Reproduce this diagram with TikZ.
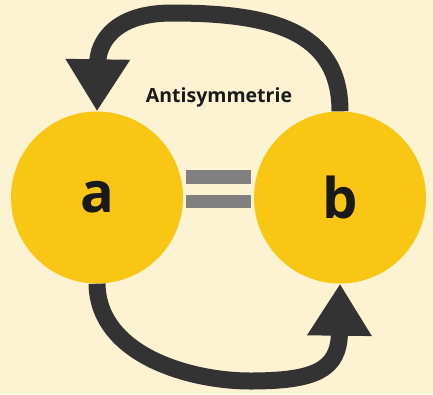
\documentclass[tikz,border=0pt]{standalone}
\usepackage{fontspec}
\setmainfont{Open Sans}
\usetikzlibrary{arrows.meta}
\definecolor{bgc}{HTML}{FDF3D3}
\definecolor{circc}{HTML}{F9C613}
\definecolor{darkc}{HTML}{333333}
\definecolor{eqc}{HTML}{808080}
\definecolor{txtc}{HTML}{1A1A1A}
\begin{document}
\begin{tikzpicture}[x=1pt,y=-1pt,
  ball/.style={circle,fill=circc,minimum size=172pt,inner sep=0pt,font=\fontsize{56}{60}\selectfont\bfseries,text=txtc},
  conn/.style={draw=darkc,line width=17pt,-{Triangle[length=52pt,width=61pt]}},
  eqbar/.style={fill=eqc}]
\fill[bgc] (0,0) rectangle (433,394);
\useasboundingbox (0,0) rectangle (433,394);
\node[ball] (a) at (97,197.5) {a};
\node[ball] (b) at (340,197.5) {b};
\fill[eqbar] (186,170) rectangle (251,183.5);
\fill[eqbar] (186,194.5) rectangle (251,208);
\node[font=\fontsize{19.5}{22}\selectfont\bfseries,text=txtc] (lab) at (219,97.5) {Antisymmetrie};
\draw[conn] (b.north) .. controls (340,30) and (270,13) .. (172,13)
  .. controls (112,13) and (98,45) .. (a.north);
\draw[conn] (a.south) .. controls (98,355) and (190,381) .. (250,381)
  .. controls (315,381) and (339,370) .. (b.south);
\end{tikzpicture}
\end{document}
